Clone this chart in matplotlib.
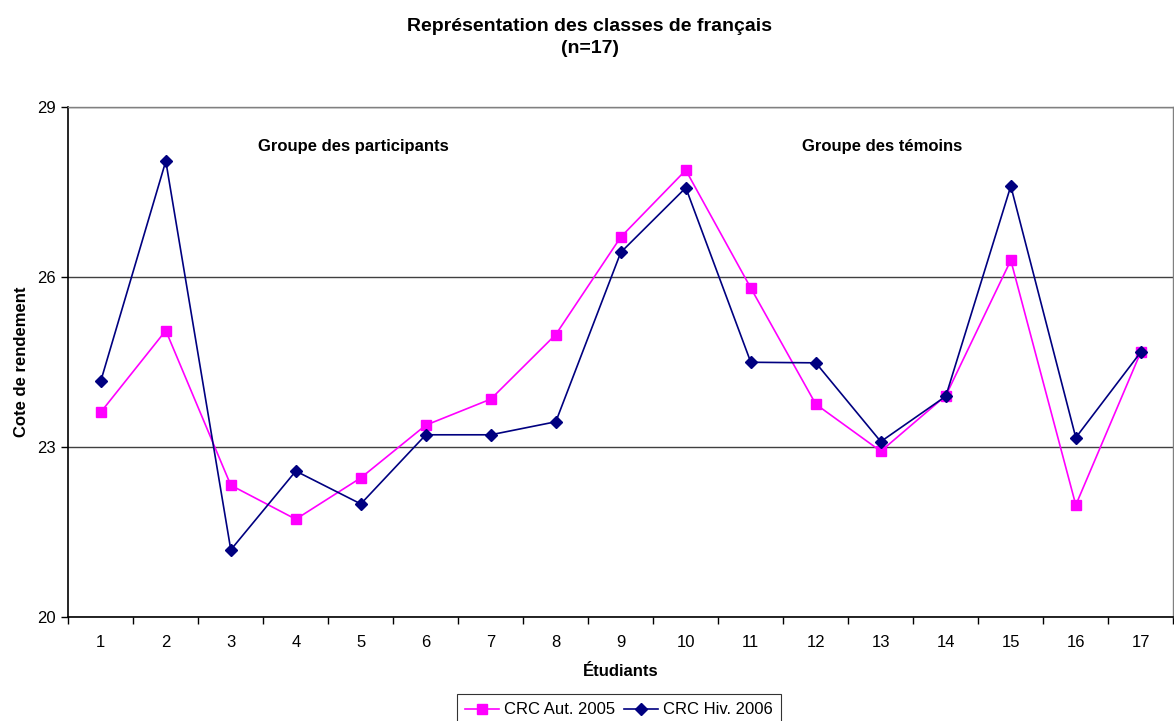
import matplotlib
matplotlib.use("Agg")
import matplotlib.pyplot as plt
from matplotlib.ticker import FixedLocator, NullFormatter

plt.rcParams['font.family'] = ['Liberation Sans', 'DejaVu Sans']

students = list(range(1, 18))
crc_aut_2005 = [23.61, 25.05, 22.32, 21.72, 22.45, 23.38, 23.84, 24.98, 26.70,
                27.88, 25.80, 23.75, 22.92, 23.90, 26.29, 21.97, 24.67]
crc_hiv_2006 = [24.16, 28.04, 21.18, 22.57, 21.99, 23.21, 23.21, 23.44, 26.43,
                27.57, 24.49, 24.48, 23.09, 23.89, 27.60, 23.16, 24.67]
y_ticks = [20, 23, 26, 29]

W, H = 1174, 721
fig = plt.figure(figsize=(W / 100, H / 100), dpi=100)
ax = fig.add_axes([68.3 / W, 1 - 616.7 / H, (1173.3 - 68.3) / W, (616.7 - 106.7) / H])

ax.plot(students, crc_aut_2005, color='#FF00FF', lw=1.2, marker='s', ms=7,
        mfc='#FF00FF', mec='#FF00FF', label='CRC Aut. 2005', zorder=3)
ax.plot(students, crc_hiv_2006, color='#000080', lw=1.2, marker='D', ms=5.8,
        mfc='#000080', mec='#000080', label='CRC Hiv. 2006', zorder=4)

ax.set_xlim(0.5, 17.5)
ax.set_ylim(20, 29)
ax.set_yticks(y_ticks)
ax.yaxis.grid(True, color='#404040', lw=1.0)
ax.set_axisbelow(True)

# category boundaries carry the ticks, centres carry the labels
ax.xaxis.set_major_locator(FixedLocator([i + 0.5 for i in range(0, 18)]))
ax.xaxis.set_major_formatter(NullFormatter())
ax.xaxis.set_minor_locator(FixedLocator(students))
ax.set_xticklabels([str(s) for s in students], minor=True)
ax.tick_params(axis='x', which='major', direction='out', length=5, width=1, color='black')
ax.tick_params(axis='x', which='minor', length=0, pad=13.5, labelsize=12)
ax.tick_params(axis='y', direction='out', length=5, width=1, color='black', labelsize=12, pad=4)

for side in ('top', 'right'):
    ax.spines[side].set_color('#808080')
    ax.spines[side].set_linewidth(1.0)
for side in ('left', 'bottom'):
    ax.spines[side].set_color('black')
    ax.spines[side].set_linewidth(1.2)

ax.set_xlabel('Étudiants', fontsize=12, fontweight='bold', labelpad=9.5)
ax.set_ylabel('Cote de rendement', fontsize=12, fontweight='bold', labelpad=6)

ax.text(4.88, 28.29, 'Groupe des participants', ha='center', va='center',
        fontsize=12, fontweight='bold')
ax.text(13.02, 28.29, 'Groupe des témoins', ha='center', va='center',
        fontsize=12, fontweight='bold')

fig.text(590 / W, 1 - 37.5 / H, 'Représentation des classes de français\n(n=17)',
         ha='center', va='center', fontsize=14, fontweight='bold', linespacing=1.4)

leg = fig.legend(loc='upper center', bbox_to_anchor=(619 / W, 1 - 694 / H), ncol=2,
                 frameon=True, fancybox=False, edgecolor='black', fontsize=12,
                 handlelength=2.05, handletextpad=0.3, columnspacing=0.5,
                 borderpad=0.5, borderaxespad=0)
leg.get_frame().set_linewidth(0.8)

fig.savefig('out.png', dpi=100)
